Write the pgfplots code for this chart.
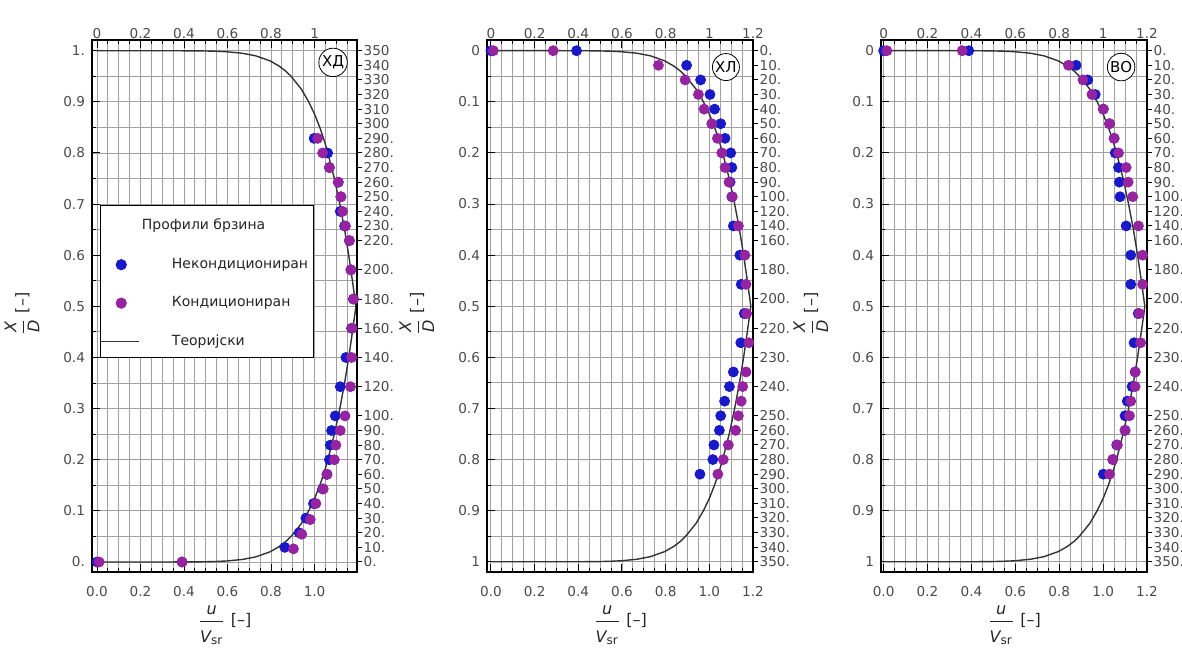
\documentclass[border=0pt]{standalone}
\usepackage{amsmath}
\usepackage{fontspec}
\setmainfont{DejaVu Sans}
\usepackage{pgfplots}
\usepackage{pgfplotstable}
\pgfplotsset{compat=1.18}

\definecolor{cblue}{RGB}{25,25,200}
\definecolor{cpurp}{RGB}{150,35,160}
\definecolor{tickgray}{RGB}{75,75,75}
\definecolor{gridgray}{RGB}{160,160,160}

\pgfplotstableread[row sep=\\]{
x y\\
0 0\\ 0.308 0.00001\\ 0.447 0.0002\\ 0.502 0.0005\\ 0.547 0.001\\ 0.597 0.002\\
0.669 0.005\\ 0.730 0.01\\ 0.796 0.02\\ 0.837 0.03\\ 0.868 0.04\\ 0.892 0.05\\
0.939 0.075\\ 0.973 0.1\\ 1.001 0.125\\ 1.024 0.15\\ 1.044 0.175\\ 1.061 0.2\\
1.091 0.25\\ 1.116 0.3\\ 1.138 0.35\\ 1.157 0.4\\ 1.174 0.45\\ 1.19 0.5\\
1.174 0.55\\ 1.157 0.6\\ 1.138 0.65\\ 1.116 0.7\\ 1.091 0.75\\ 1.061 0.8\\
1.044 0.825\\ 1.024 0.85\\ 1.001 0.875\\ 0.973 0.9\\ 0.939 0.925\\ 0.892 0.95\\
0.868 0.96\\ 0.837 0.97\\ 0.796 0.98\\ 0.730 0.99\\ 0.669 0.995\\ 0.597 0.998\\
0.547 0.999\\ 0.502 0.9995\\ 0.447 0.9998\\ 0.308 0.99999\\ 0 1\\
}\curvetab

% Panel 1 (XD)
\pgfplotstableread[row sep=\\]{
x mm\\
0 0\\ 0.391 0\\ 0.863 10\\ 0.929 20\\ 0.960 30\\ 0.995 40\\ 1.037 50\\ 1.057 60\\
1.068 70\\ 1.072 80\\ 1.078 90\\ 1.095 100\\ 1.118 120\\ 1.144 140\\ 1.170 160\\
1.178 180\\ 1.167 200\\ 1.160 220\\ 1.138 230\\ 1.118 240\\ 1.121 250\\ 1.109 260\\
1.068 270\\ 1.060 280\\ 0.998 290\\
}\aBlue
\pgfplotstableread[row sep=\\]{
x mm\\
0.01 0\\ 0.391 0\\ 0.903 9\\ 0.941 19\\ 0.980 29\\ 1.006 40\\ 1.040 50\\ 1.057 60\\
1.091 70\\ 1.098 80\\ 1.118 90\\ 1.140 100\\ 1.165 120\\ 1.170 140\\ 1.172 160\\
1.180 180\\ 1.167 200\\ 1.160 220\\ 1.142 230\\ 1.129 240\\ 1.121 250\\ 1.109 260\\
1.068 270\\ 1.037 280\\ 1.014 290\\
}\aPurp

% Panel 2 (XL)
\pgfplotstableread[row sep=\\]{
x mm\\
0 0\\ 0.392 0\\ 0.896 10\\ 0.960 20\\ 1.003 30\\ 1.024 40\\ 1.052 50\\ 1.072 60\\
1.098 70\\ 1.103 80\\ 1.095 90\\ 1.103 100\\ 1.110 120\\ 1.140 140\\ 1.146 160\\
1.160 180\\ 1.144 200\\ 1.110 220\\ 1.092 230\\ 1.070 240\\ 1.052 250\\ 1.046 260\\
1.021 270\\ 1.016 280\\ 0.957 290\\
}\bBlue
\pgfplotstableread[row sep=\\]{
x mm\\
0.011 0\\ 0.285 0\\ 0.767 10\\ 0.889 20\\ 0.950 30\\ 0.976 40\\ 1.011 50\\ 1.037 60\\
1.057 70\\ 1.072 80\\ 1.090 90\\ 1.105 100\\ 1.133 120\\ 1.163 140\\ 1.168 160\\
1.171 180\\ 1.181 200\\ 1.168 220\\ 1.153 230\\ 1.146 240\\ 1.133 250\\ 1.120 260\\
1.087 270\\ 1.064 280\\ 1.039 290\\
}\bPurp

% Panel 3 (VO)
\pgfplotstableread[row sep=\\]{
x mm\\
0 0\\ 0.388 0\\ 0.877 10\\ 0.930 20\\ 0.964 30\\ 1.001 40\\ 1.029 50\\ 1.050 60\\
1.055 70\\ 1.070 80\\ 1.074 90\\ 1.077 100\\ 1.105 120\\ 1.126 140\\ 1.126 160\\
1.160 180\\ 1.141 200\\ 1.146 220\\ 1.132 230\\ 1.110 240\\ 1.100 250\\ 1.100 260\\
1.062 270\\ 1.044 280\\ 1.001 290\\
}\cBlue
\pgfplotstableread[row sep=\\]{
x mm\\
0.015 0\\ 0.358 0\\ 0.842 10\\ 0.908 20\\ 0.949 30\\ 1.001 40\\ 1.029 50\\ 1.050 60\\
1.070 70\\ 1.105 80\\ 1.114 90\\ 1.135 100\\ 1.161 120\\ 1.180 140\\ 1.180 160\\
1.165 180\\ 1.171 200\\ 1.146 220\\ 1.146 230\\ 1.126 240\\ 1.120 250\\ 1.100 260\\
1.065 270\\ 1.044 280\\ 1.029 290\\
}\cPurp

\tikzset{tag/.style={circle, draw=black, line width=0.4pt, fill=white, inner sep=0.5pt,
    minimum size=13.5pt, font=\fontsize{7.5}{8}\selectfont}}

\pgfplotsset{
  panel/.style={
    scale only axis, width=133pt, height=266pt, anchor=south west,
    /pgf/number format/assume math mode=true,
    tick label style={font=\fontsize{6.8}{8}\selectfont, text=tickgray},
    label style={font=\fontsize{8}{9}\selectfont, text=black!85},
    axis line style={black, line width=0.7pt},
    major tick length=4pt, minor tick length=2pt,
    every tick/.append style={black, line width=0.5pt},
    xticklabel style={inner ysep=4.7pt, yshift=-2.5pt},
  },
  gridded/.style={grid=both,
    major grid style={gridgray, line width=0.45pt},
    minor grid style={gridgray, line width=0.45pt}},
  minorx/.style={minor xtick={0.05,0.1,0.15,0.25,0.3,0.35,0.45,0.5,0.55,0.65,0.7,0.75,0.85,0.9,0.95,1.05,1.1,1.15}},
  majorx/.style={xtick={0,0.2,0.4,0.6,0.8,1,1.2}},
  topax/.style={tick pos=right, tick align=inside, ytick=\empty, xticklabel pos=right,
    xticklabel style={yshift=-1.5pt}},
  yleft/.style={ytick={0,0.1,0.2,0.3,0.4,0.5,0.6,0.7,0.8,0.9,1},
    minor ytick={0.05,0.15,0.25,0.35,0.45,0.55,0.65,0.75,0.85,0.95}},
  rightax/.style={tick pos=right, tick align=outside, xtick=\empty,
    yticklabel pos=right, major tick length=2.5pt,
    yticklabel style={inner xsep=0.6pt}, clip=false},
  rightB/.style={ytick={0,10,20,30,40,50,60,70,80,90,100,110,120,130,150,170,190,210,230,250,260,270,280,290,300,310,320,330,340,350},
    yticklabels={0.,10.,20.,30.,40.,50.,60.,70.,80.,90.,100.,120.,140.,160.,180.,200.,220.,230.,240.,250.,260.,270.,280.,290.,300.,310.,320.,330.,340.,350.}},
  bl/.style={only marks, mark=*, mark size=2.5pt, color=cblue, forget plot},
  pu/.style={only marks, mark=*, mark size=2.5pt, color=cpurp, forget plot},
  xlab/.style={xlabel={$\displaystyle\frac{\textit{u}}{\rule{0pt}{9pt}\textit{V}_{\textup{sr}}}$ [--]},
    xlabel style={at={(axis description cs:0.5,-0.100)}, anchor=center}},
  ylab/.style={ylabel={$\displaystyle\frac{\textit{X}}{\textit{D}}$ [--]},
    ylabel style={at={(axis description cs:-0.264,0.485)}, anchor=center}},
}

\begin{document}
\begin{tikzpicture}
\useasboundingbox (0,0) rectangle (591pt,324.5pt);

% ================= Panel 1 =================
\begin{axis}[panel, gridded, at={(46pt,38.5pt)}, width=132.5pt,
  xmin=-0.023, xmax=1.195, ymin=-0.0196, ymax=1.021,
  tick pos=left, tick align=inside,
  xtick={0,0.2,0.4,0.6,0.8,1}, xticklabels={0.0,0.2,0.4,0.6,0.8,1.0}, minorx,
  yleft, yticklabels={0.,0.1,0.2,0.3,0.4,0.5,0.6,0.7,0.8,0.9,1.},
  xlab, ylab]
  \addplot[black!80, line width=0.7pt] table[x=x,y=y] {\curvetab};
\end{axis}
\begin{axis}[panel, topax, at={(46pt,38.5pt)}, width=132.5pt,
  xmin=-0.023, xmax=1.195, ymin=-0.0196, ymax=1.021,
  xtick={0,0.2,0.4,0.6,0.8,1}, xticklabels={0,0.2,0.4,0.6,0.8,1}, minorx]
\end{axis}
\begin{axis}[panel, rightax, at={(46pt,38.5pt)}, width=132.5pt,
  xmin=-0.023, xmax=1.195, ymin=-6.86, ymax=357.35,
  ytick={0,10,20,30,40,50,60,70,80,90,100,120,140,160,180,200,220,230,240,250,260,270,280,290,300,310,320,330,340,350},
  yticklabels={0.,10.,20.,30.,40.,50.,60.,70.,80.,90.,100.,120.,140.,160.,180.,200.,220.,230.,240.,250.,260.,270.,280.,290.,300,310,320,330,340,350},
  legend style={at={(axis description cs:0.030,0.690)}, anchor=north west,
    draw=black, line width=0.6pt, fill=white, font=\fontsize{7}{8}\selectfont,
    text=black!85, inner xsep=0pt, inner ysep=3.6pt, row sep=10.6pt,
    nodes={inner sep=1pt},
    /tikz/every odd column/.append style={column sep=15pt}},
  legend cell align=left,
  legend image code/.code={\draw[mark repeat=2,mark phase=2,#1] plot coordinates {(0pt,0pt) (10pt,0pt) (19pt,0pt)};}]
  \addplot[bl] table[x=x,y=mm] {\aBlue};
  \addplot[pu] table[x=x,y=mm] {\aPurp};
  \addlegendimage{empty legend}
  \addlegendentry{\hspace*{-15pt}\rule{0pt}{7.6pt}Профили брзина}
  \addlegendimage{only marks, mark=*, mark size=2.5pt, color=cblue}
  \addlegendentry{Некондициониран\hspace*{1.5pt}}
  \addlegendimage{only marks, mark=*, mark size=2.5pt, color=cpurp}
  \addlegendentry{Кондициониран}
  \addlegendimage{black!80, line width=0.7pt}
  \addlegendentry{Теоријски}
  \node[tag] at (axis cs:1.085,342) {ХД};
\end{axis}

% ================= Panel 2 =================
\begin{axis}[panel, gridded, at={(243.5pt,38.5pt)},
  xmin=-0.018, xmax=1.2, ymin=-0.0209, ymax=1.02, y dir=reverse,
  tick pos=left, tick align=inside,
  majorx, xticklabels={0.0,0.2,0.4,0.6,0.8,1.0,1.2}, minorx,
  yleft, yticklabels={0,0.1,0.2,0.3,0.4,0.5,0.6,0.7,0.8,0.9,1},
  xlab, ylab]
  \addplot[black!80, line width=0.7pt] table[x=x,y=y] {\curvetab};
\end{axis}
\begin{axis}[panel, topax, at={(243.5pt,38.5pt)},
  xmin=-0.018, xmax=1.2, ymin=-0.0209, ymax=1.02, y dir=reverse,
  majorx, xticklabels={0,0.2,0.4,0.6,0.8,1,1.2}, minorx]
\end{axis}
\begin{axis}[panel, rightax, rightB, at={(243.5pt,38.5pt)},
  xmin=-0.018, xmax=1.2, ymin=-7.33, ymax=357, y dir=reverse]
  \addplot[bl] table[x=x,y=mm] {\bBlue};
  \addplot[pu] table[x=x,y=mm] {\bPurp};
  \node[tag] at (axis cs:1.076,11.2) {ХЛ};
\end{axis}

% ================= Panel 3 =================
\begin{axis}[panel, gridded, at={(440.5pt,38.5pt)},
  xmin=-0.012, xmax=1.2, ymin=-0.0209, ymax=1.02, y dir=reverse,
  tick pos=left, tick align=inside,
  majorx, xticklabels={0.0,0.2,0.4,0.6,0.8,1.0,1.2}, minorx,
  yleft, yticklabels={0,0.1,0.2,0.3,0.4,0.5,0.6,0.7,0.8,0.9,1},
  xlab, ylab]
  \addplot[black!80, line width=0.7pt] table[x=x,y=y] {\curvetab};
\end{axis}
\begin{axis}[panel, topax, at={(440.5pt,38.5pt)},
  xmin=-0.012, xmax=1.2, ymin=-0.0209, ymax=1.02, y dir=reverse,
  majorx, xticklabels={0,0.2,0.4,0.6,0.8,1,1.2}, minorx]
\end{axis}
\begin{axis}[panel, rightax, rightB, at={(440.5pt,38.5pt)},
  xmin=-0.012, xmax=1.2, ymin=-7.33, ymax=357, y dir=reverse]
  \addplot[bl] table[x=x,y=mm] {\cBlue};
  \addplot[pu] table[x=x,y=mm] {\cPurp};
  \node[tag] at (axis cs:1.082,11.2) {ВО};
\end{axis}
\end{tikzpicture}
\end{document}
